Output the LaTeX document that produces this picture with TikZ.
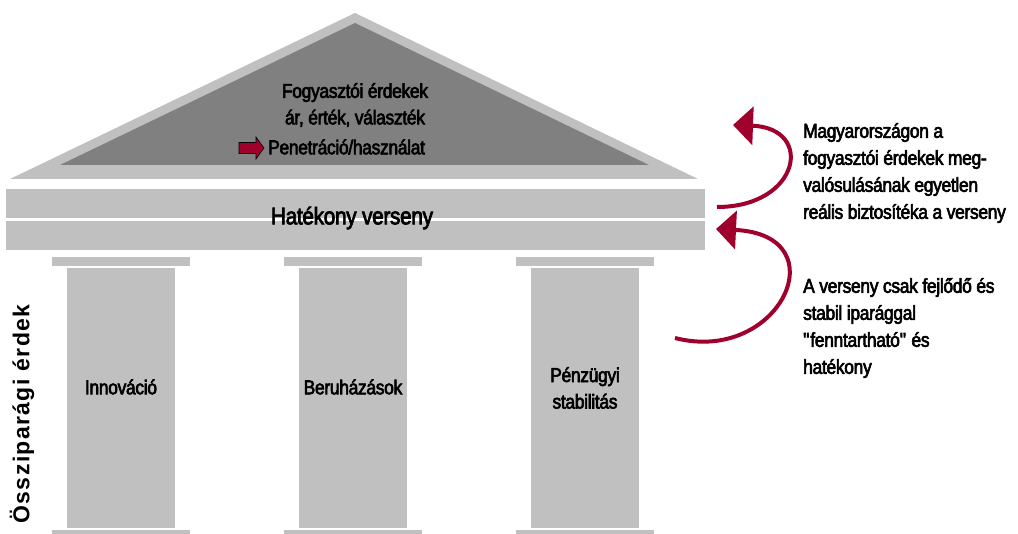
\documentclass[tikz,border=0pt]{standalone}
\usepackage{fontspec}
\setmainfont{Liberation Sans}[FakeStretch=0.87,LetterSpace=-1.5,FakeBold=3]
\newfontfamily\sidefont{Liberation Sans Bold}[LetterSpace=6]
\usetikzlibrary{arrows.meta,positioning}
\definecolor{lgray}{HTML}{C0C0C0}
\definecolor{dgray}{HTML}{808080}
\definecolor{wine}{HTML}{A0002C}
\tikzset{
  lbl/.style={align=center,inner sep=0pt,font=\fontsize{20}{26.5}\selectfont},
  note/.style={align=left,anchor=west,inner sep=0pt,font=\fontsize{20}{27}\selectfont},
  loop/.style={draw=wine,line width=4pt,-{Triangle[length=20pt,width=38pt]}},
}

\begin{document}
\begin{tikzpicture}[x=1pt,y=-1pt]
   \useasboundingbox (0,0) rectangle (1018,534);
   % roof
   \fill[lgray] (355,13) -- (698,179) -- (10,179) -- cycle;
   \fill[dgray] (355,23) -- (649,165) -- (60,165) -- cycle;
   % beam
   \fill[lgray] (6,189) rectangle (705,218);
   \fill[lgray] (6,221) rectangle (705,250);
   % columns
   \foreach \x in {121,353,585} {
    \fill[lgray] ({\x-69},257) rectangle ({\x+69},266);
    \fill[lgray] ({\x-54},268) rectangle ({\x+54},528);
    \fill[lgray] ({\x-69},530) rectangle ({\x+69},534);
   }
   \node[lbl] (cons) at (355,105) {Fogyasztói érdekek\\ár, érték, választék};
   \node[lbl,anchor=west] (pen) at (268,147) {Penetráció/használat};
   \filldraw[fill=wine,draw=black,line width=0.6pt]
     (239,142.5) -- (256,142.5) -- (256,137) -- (264,148) -- (256,159)
      -- (256,153.5) -- (239,153.5) -- cycle;
   \node[lbl,font=\fontsize{24}{26}\selectfont] (beam) at (352,218) {Hatékony verseny};
   \node[lbl] (inno) at (121,387) {Innováció};
   \node[lbl] (invest) at (353,387) {Beruházások};
   \node[lbl] (fin) at (585,388) {Pénzügyi\\stabilitás};
   \node[rotate=90,inner sep=0pt,font=\sidefont\fontsize{23}{24}\selectfont] (side) at (22,414) {Össziparági érdek};
   % notes on the right
   \node[note] (noteA) at (803,173) {Magyarországon a\\fogyasztói érdekek meg-\\valósulásának egyetlen\\reális biztosítéka a verseny};
   \node[note] (noteB) at (803,328) {A verseny csak fejlődő és\\stabil iparággal\\\textquotedbl fenntartható\textquotedbl\ és\\hatékony};
   \coordinate (upS) at (717,207);
   \coordinate (upE) at (733,125);
   \coordinate (loS) at (675,338);
   \coordinate (loE) at (716,229);
   \draw[loop] (upS) .. controls (800,207) and (815,128) .. (upE);
   \draw[loop] (loS) .. controls (780,365) and (840,235) .. (loE);
  \end{tikzpicture}
\end{document}
